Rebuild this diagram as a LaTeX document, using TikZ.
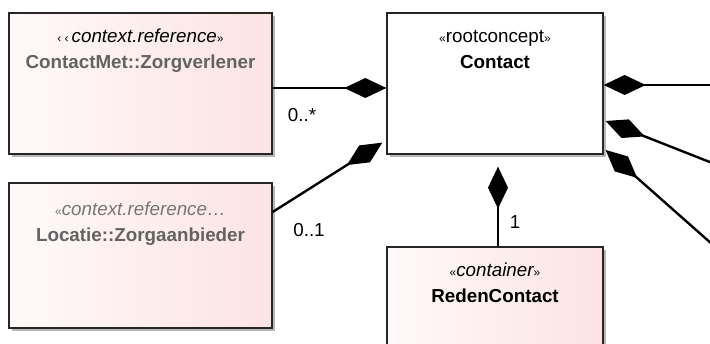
\documentclass[tikz,border=0pt]{standalone}
\usepackage{fontspec}
\setmainfont{Liberation Sans}
\usetikzlibrary{arrows.meta,shadows,calc}
\definecolor{pinkL}{HTML}{FFF9F9}
\definecolor{pinkR}{HTML}{FCE3E3}
\definecolor{greytxt}{HTML}{636363}
\definecolor{greytxtB}{HTML}{777777}
\tikzset{
  umlshadow/.style={drop shadow={shadow xshift=3pt,shadow yshift=-3pt,fill=black,opacity=0.28}},
  pinkbox/.style={draw=black!85,line width=1.3pt,shading=axis,left color=pinkL,right color=pinkR,shading angle=90,umlshadow,rectangle,inner sep=0pt},
  whitebox/.style={draw=black!85,line width=1.3pt,fill=white,umlshadow,rectangle,inner sep=0pt},
  stereo/.style={font=\fontsize{18.8}{20}\selectfont\itshape,inner sep=0pt,anchor=base},
  stereoup/.style={font=\fontsize{18.8}{20}\selectfont,inner sep=0pt,anchor=base},
  cname/.style={font=\fontsize{18.8}{20}\selectfont\bfseries,inner sep=0pt,anchor=base},
  mult/.style={font=\fontsize{18.8}{20}\selectfont,inner sep=0pt},
  conn/.style={line width=2.4pt,-{Diamond[length=42pt,width=20pt]}},
}
\newcommand{\gl}{{\fontsize{12}{12}\selectfont\upshape«}}
\newcommand{\gr}{{\fontsize{12}{12}\selectfont\upshape»}}
\newcommand{\gsl}{{\fontsize{12}{12}\selectfont\upshape‹}}
\begin{document}
\begin{tikzpicture}[x=1pt,y=-1pt]
\useasboundingbox (0,0) rectangle (710,344);
\clip (0,0) rectangle (710,344);
% boxes
\node[pinkbox,minimum width=263pt,minimum height=141pt] (zv) at (140.5,83.5) {};
\node[pinkbox,minimum width=263pt,minimum height=145pt] (za) at (140.5,255.5) {};
\node[whitebox,minimum width=216pt,minimum height=141pt] (ct) at (495,83.5) {};
\node[pinkbox,minimum width=216pt,minimum height=153pt] (rc) at (495,323.5) {};
% texts
\node[stereo] (zvs) at ($(zv.north)+(0,30)$) {\gsl\,\gsl\,context.reference\gr};
\node[cname,text=greytxt] (zvn) at ($(zv.north)+(0,56)$) {ContactMet::Zorgverlener};
\node[stereo,text=greytxtB] (zas) at ($(za.north)+(0,33)$) {\gl context.reference…};
\node[cname,text=greytxt] (zan) at ($(za.north)+(0,59)$) {Locatie::Zorgaanbieder};
\node[stereoup] (cts) at ($(ct.north)+(0,30)$) {\gl rootconcept\gr};
\node[cname] (ctn) at ($(ct.north)+(0,56)$) {Contact};
\node[stereo] (rcs) at ($(rc.north)+(0,30)$) {\gl container\gr};
\node[cname] (rcn) at ($(rc.north)+(0,56)$) {RedenContact};
% free ends at the right
\coordinate (r1) at (730,85);
\coordinate (r2) at (730,170);
\coordinate (r3) at (730,260);
% connectors
\draw[conn] ($(zv.east)+(0,4.5)$) -- ($(ct.west)+(0,4.5)$);
\draw[conn] ($(za.east)+(0,-43.5)$) -- ($(ct.south west)+(-4,-12)$);
\draw[conn] ($(rc.north)+(3,0)$) -- ($(ct.south)+(3,12)$);
\draw[conn] (r1) -- ($(ct.east)+(0,1.5)$);
\draw[conn] (r2) -- ($(ct.east)+(2,37.5)$);
\draw[conn] (r3) -- ($(ct.east)+(2,66.5)$);
% multiplicities
\node[mult] (m1) at (302,115) {0..*};
\node[mult] (m2) at (309,230) {0..1};
\node[mult] (m3) at (515,222) {1};
\end{tikzpicture}
\end{document}
